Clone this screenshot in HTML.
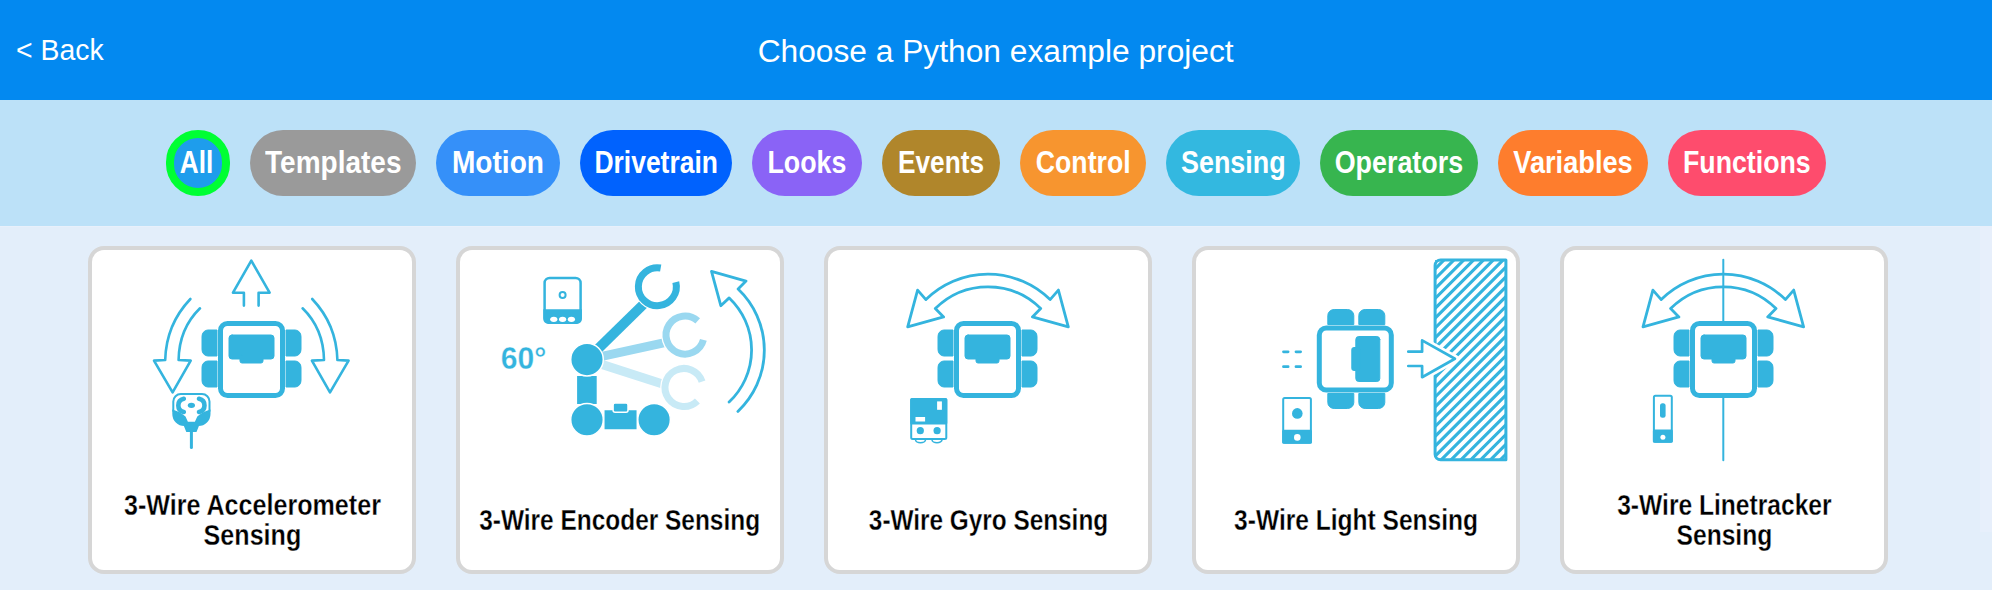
<!DOCTYPE html>
<html><head><meta charset="utf-8">
<style>
*{box-sizing:border-box;margin:0;padding:0}
html,body{width:1992px;height:590px;overflow:hidden;background:#E3EEFA;font-family:"Liberation Sans",sans-serif}
#hdr{position:absolute;left:0;top:0;width:1992px;height:100px;background:#0389F0;color:#fff}
#back{position:absolute;left:16px;top:30px;font-size:29px;line-height:40px;white-space:nowrap}
#back span{display:inline-block;transform:scaleX(0.979);transform-origin:0 50%}
#title{position:absolute;left:0;width:1992px;top:32px;font-size:31px;line-height:40px;text-align:center;white-space:nowrap}
#title span{display:inline-block;transform:scaleX(1.023)}
#band{position:absolute;left:0;top:100px;width:1992px;height:126px;background:#BCE1F8}
.pill{position:absolute;top:130px;height:66px;border-radius:33px;color:#fff;font-weight:bold;font-size:30.5px;line-height:66px;text-align:center;white-space:nowrap}
.pill span{display:inline-block;transform-origin:50% 50%;position:relative;top:-1px}
#all{background:#1E9DEC;border:8px solid #00FF33;line-height:50px}
.card{position:absolute;top:246px;width:328px;height:328px;border:4px solid #D6D6D6;border-radius:16px;background:#fff}
.ct{position:absolute;left:0;width:320px;top:239.5px;height:60px;display:flex;align-items:center;justify-content:center;text-align:center;font-weight:bold;font-size:29px;line-height:30px;color:#000;-webkit-text-stroke:0.3px #fff}
.ct span{display:inline-block;white-space:nowrap}
#sb{position:absolute;left:1980px;top:226px;width:12px;height:306px;background:#E7EFFB}
#ic{position:absolute;left:0;top:0}
</style></head><body>
<div id="hdr">
  <div id="back"><span>&lt; Back</span></div>
  <div id="title"><span>Choose a Python example project</span></div>
</div>
<div id="band"></div>
<div style="position:absolute;left:0;top:226px;width:1992px;height:1px;background:#E8F0FB"></div>
<div class="pill" id="all" style="left:166px;width:64px"><span style="transform:scaleX(0.86);left:-1.5px">All</span></div>
<div class="pill" style="left:250px;width:166px;background:#9A9A9A"><span style="transform:scaleX(0.9183)">Templates</span></div>
<div class="pill" style="left:436px;width:124px;background:#3590F9"><span style="transform:scaleX(0.9212)">Motion</span></div>
<div class="pill" style="left:580px;width:152px;background:#0062FE"><span style="transform:scaleX(0.8669)">Drivetrain</span></div>
<div class="pill" style="left:752px;width:110px;background:#8A63F6"><span style="transform:scaleX(0.8781)">Looks</span></div>
<div class="pill" style="left:882px;width:118px;background:#B0862B"><span style="transform:scaleX(0.8593)">Events</span></div>
<div class="pill" style="left:1020px;width:126px;background:#F7952F"><span style="transform:scaleX(0.8738)">Control</span></div>
<div class="pill" style="left:1166px;width:134px;background:#33B8E0"><span style="transform:scaleX(0.8818)">Sensing</span></div>
<div class="pill" style="left:1320px;width:158px;background:#37B54F"><span style="transform:scaleX(0.8812)">Operators</span></div>
<div class="pill" style="left:1498px;width:150px;background:#FE7D2D"><span style="transform:scaleX(0.8913)">Variables</span></div>
<div class="pill" style="left:1668px;width:158px;background:#FE4C6D"><span style="transform:scaleX(0.8763)">Functions</span></div>

<div class="card" style="left:88px"><div class="ct"><span style="transform:scaleX(0.8657)">3-Wire Accelerometer<br>Sensing</span></div></div>
<div class="card" style="left:456px"><div class="ct"><span style="transform:scaleX(0.8427)">3-Wire Encoder Sensing</span></div></div>
<div class="card" style="left:824px"><div class="ct"><span style="transform:scaleX(0.8397)">3-Wire Gyro Sensing</span></div></div>
<div class="card" style="left:1192px"><div class="ct"><span style="transform:scaleX(0.8466)">3-Wire Light Sensing</span></div></div>
<div class="card" style="left:1560px"><div class="ct"><span style="transform:scaleX(0.8483)">3-Wire Linetracker<br>Sensing</span></div></div>
<div id="sb"></div>

<svg id="ic" width="1992" height="590" viewBox="0 0 1992 590">
<defs>
  <g id="robot">
    <path d="M202,336 a6,6 0 0 1 6,-6 h9 v26 h-9 a6,6 0 0 1 -6,-6z M202,367 a6,6 0 0 1 6,-6 h9 v26 h-9 a6,6 0 0 1 -6,-6z M301,336 a6,6 0 0 0 -6,-6 h-9 v26 h9 a6,6 0 0 0 6,-6z M301,367 a6,6 0 0 0 -6,-6 h-9 v26 h9 a6,6 0 0 0 6,-6z" fill="#34B4DE"/>
    <rect x="220.5" y="323.5" width="62" height="72" rx="7" fill="#fff" stroke="#34B4DE" stroke-width="5"/>
    <rect x="229" y="335" width="45" height="24" rx="3" fill="#34B4DE"/>
    <rect x="240" y="355" width="23" height="8" rx="2" fill="#34B4DE"/>
  </g>
  <g id="arcs">
    <path d="M925.9,299.6 A88.6,88.6 0 0 1 1050.1,299.6 L1058.4,290.1 L1068.3,326.9 L1032.4,316.9 L1040.7,308.6 A74.8,74.8 0 0 0 935.3,308.6 L943.6,316.9 L907.7,326.9 L917.6,290.1 Z" fill="none" stroke="#34B4DE" stroke-width="2.8" stroke-linejoin="round"/>
  </g>
  <clipPath id="wallclip"><rect x="1435" y="260" width="71" height="200"/></clipPath>
</defs>
<g fill="none" stroke="#34B4DE" stroke-linecap="round">
<!-- card1 -->
<use href="#robot"/>
<path d="M243.9,305.6 V292.7 H233 L251.3,260.6 L269.6,292.7 H258.6 V305.6" stroke-width="2.6" stroke-linejoin="round"/>
<g id="carrow"><path d="M190.4,299 C178,312 166,330 165.2,360 L154,360.6 L172.6,392.3 L190.7,360.6 L178.6,360 C179,335 188,320 200,308.3" stroke-width="2.6" stroke-linejoin="round"/></g>
<use href="#carrow" transform="translate(502.6,0) scale(-1,1)"/>
<!-- accel sensor -->
<path d="M173.3,411 V401.5 a7.5,7.5 0 0 1 7.5,-7.5 H202 a7.5,7.5 0 0 1 7.5,7.5 V411" stroke-width="2"/>
<path d="M172.3,409.5 Q180,411.5 185.5,416.4 L187.9,421.8 H194.9 L197.3,416.4 Q202.8,411.5 210.5,409.5 V414 a12,12 0 0 1 -12,12 H198.9 L196.5,432 H186.3 L183.9,426 H184.3 a12,12 0 0 1 -12,-12 Z" fill="#34B4DE" stroke="none"/>
<line x1="191.4" y1="431" x2="191.4" y2="447.5" stroke-width="3"/>
<ellipse cx="191.4" cy="405.3" rx="3.6" ry="2.6" fill="#34B4DE" stroke="none"/>
<path d="M183.8,398.8 C176.5,400.5 176.5,410.3 183.8,412" stroke-width="4.6"/>
<path d="M199,398.8 C206.3,400.5 206.3,410.3 199,412" stroke-width="4.6"/>
<!-- card2 -->
<rect x="544.6" y="277.9" width="36" height="44.8" rx="5" stroke-width="2.5"/>
<path d="M543.3,309.3 h38.6 v9.7 a5,5 0 0 1 -5,5 h-28.6 a5,5 0 0 1 -5,-5z" fill="#34B4DE" stroke="none"/>
<ellipse cx="553.8" cy="319.3" rx="3.6" ry="2.6" fill="#fff" stroke="none"/>
<ellipse cx="562.6" cy="319.3" rx="3.6" ry="2.6" fill="#fff" stroke="none"/>
<ellipse cx="571.4" cy="319.3" rx="3.6" ry="2.6" fill="#fff" stroke="none"/>
<circle cx="562.6" cy="294.9" r="3" stroke-width="2"/>
<text x="500.8" y="369.4" textLength="45.5" lengthAdjust="spacingAndGlyphs" font-family="Liberation Sans" font-weight="bold" font-size="31" fill="#34B4DE" stroke="#fff" stroke-width="0.3">60°</text>
<!-- arms -->
<line x1="587" y1="359.6" x2="663.3" y2="384.3" stroke="#C8EAF6" stroke-width="9" stroke-linecap="butt"/>
<path d="M702.07,381.63 A19,19 0 1 0 697.4,400.9" stroke="#fff" stroke-width="9.5" stroke-linecap="butt"/>
<path d="M702.07,381.63 A19,19 0 1 0 697.4,400.9" stroke="#C8EAF6" stroke-width="7" stroke-linecap="butt"/>
<line x1="587" y1="359.6" x2="664.8" y2="342.6" stroke="#9AD8F0" stroke-width="9" stroke-linecap="butt"/>
<path d="M697.7,320.9 A19,19 0 1 0 703.4,339.9" stroke="#fff" stroke-width="9.5" stroke-linecap="butt"/>
<path d="M697.7,320.9 A19,19 0 1 0 703.4,339.9" stroke="#9AD8F0" stroke-width="7" stroke-linecap="butt"/>
<line x1="587" y1="359.6" x2="644.3" y2="303.5" stroke="#34B4DE" stroke-width="10" stroke-linecap="butt"/>
<path d="M660.7,268 A19,19 0 1 0 675.8,282.1" stroke="#fff" stroke-width="9.5" stroke-linecap="butt"/>
<path d="M660.7,268 A19,19 0 1 0 675.8,282.1" stroke="#34B4DE" stroke-width="7" stroke-linecap="butt"/>
<rect x="577.1" y="376" width="19.6" height="28" fill="#34B4DE" stroke="none"/>
<path d="M603.8,409.5 h33.5 v20.5 h-33.5z" fill="#34B4DE" stroke="#fff" stroke-width="1.5"/>
<rect x="613.1" y="403" width="14.9" height="9.3" rx="2" fill="#34B4DE" stroke="#fff" stroke-width="1.5"/>
<circle cx="587" cy="359.6" r="16.3" fill="#34B4DE" stroke="#fff" stroke-width="1.5"/>
<circle cx="587" cy="419.8" r="16.3" fill="#34B4DE" stroke="#fff" stroke-width="1.5"/>
<circle cx="654.1" cy="419.8" r="16.3" fill="#34B4DE" stroke="#fff" stroke-width="1.5"/>
<path d="M737.9,411.4 A84.3,84.3 0 0 0 738.1,289 L746,281.1 L711.5,271.4 L720.8,305.7 L729.2,297.9 A71.6,71.6 0 0 1 729.1,402" stroke-width="2.8" stroke-linejoin="round"/>

<!-- card3 -->
<use href="#robot" transform="translate(736,0)"/>
<use href="#arcs"/>
<rect x="911.2" y="398.9" width="35.1" height="40" rx="1.5" stroke-width="2"/>
<rect x="910.2" y="397.9" width="37.1" height="26.7" rx="1.5" fill="#34B4DE" stroke="none"/>
<rect x="937.1" y="401.4" width="4.8" height="8.4" fill="#fff" stroke="none"/>
<rect x="915.5" y="417" width="9.6" height="4.5" fill="#fff" stroke="none"/>
<circle cx="920.3" cy="430.7" r="3.6" fill="#34B4DE" stroke="none"/>
<circle cx="937.1" cy="430.7" r="3.6" fill="#34B4DE" stroke="none"/>
<path d="M915.5,439.8 a5,3 0 0 0 10,0 M932,439.8 a5,3 0 0 0 10,0" stroke-width="1.6"/>

<!-- card4 -->
<use href="#robot" transform="translate(1355.3,359) rotate(90) translate(-251.5,-359.5)"/>
<path d="M1283.5,351.8 h4.6 M1296,351.8 h4.6 M1283.5,366.7 h4.6 M1296,366.7 h4.6" stroke-width="2.8"/>
<rect x="1283.2" y="397.9" width="27.7" height="44.8" rx="1.5" stroke-width="2"/>
<rect x="1282.2" y="429.7" width="29.7" height="14" rx="1.5" fill="#34B4DE" stroke="none"/>
<circle cx="1297.3" cy="413.4" r="5.3" fill="#34B4DE" stroke="none"/>
<circle cx="1297.3" cy="437.4" r="3.3" fill="#fff" stroke="none"/>
<g clip-path="url(#wallclip)"><path d="M1209.5,465.0 L1419.5,255.0 M1219.3,465.0 L1429.3,255.0 M1229.2,465.0 L1439.2,255.0 M1239.0,465.0 L1449.0,255.0 M1248.9,465.0 L1458.9,255.0 M1258.8,465.0 L1468.8,255.0 M1268.6,465.0 L1478.6,255.0 M1278.5,465.0 L1488.5,255.0 M1288.3,465.0 L1498.3,255.0 M1298.1,465.0 L1508.1,255.0 M1308.0,465.0 L1518.0,255.0 M1317.8,465.0 L1527.8,255.0 M1327.7,465.0 L1537.7,255.0 M1337.5,465.0 L1547.5,255.0 M1347.4,465.0 L1557.4,255.0 M1357.2,465.0 L1567.2,255.0 M1367.1,465.0 L1577.1,255.0 M1377.0,465.0 L1587.0,255.0 M1386.8,465.0 L1596.8,255.0 M1396.6,465.0 L1606.6,255.0 M1406.5,465.0 L1616.5,255.0 M1416.3,465.0 L1626.3,255.0 M1426.2,465.0 L1636.2,255.0 M1436.0,465.0 L1646.0,255.0 M1445.9,465.0 L1655.9,255.0 M1455.8,465.0 L1665.8,255.0 M1465.6,465.0 L1675.6,255.0 M1475.4,465.0 L1685.4,255.0 M1485.3,465.0 L1695.3,255.0 M1495.1,465.0 L1705.1,255.0 M1505.0,465.0 L1715.0,255.0 M1514.8,465.0 L1724.8,255.0 M1524.7,465.0 L1734.7,255.0" stroke-width="3.1" stroke-linecap="butt"/></g>
<path d="M1440.6,260 H1505.9 V459.8 H1440.6 a5.5,5.5 0 0 1 -5.5,-5.5 V265.5 a5.5,5.5 0 0 1 5.5,-5.5z" stroke-width="3" stroke-linejoin="round"/>
<path d="M1422.1,340.4 L1454.9,358.8 L1422.1,377.2 Z" fill="#fff" stroke="#fff" stroke-width="8" stroke-linejoin="round"/>
<path d="M1408.3,351.7 H1422.1 V340.4 L1454.9,358.8 L1422.1,377.2 V366 H1408.3" fill="#fff" stroke-width="2.7" stroke-linejoin="round"/>

<!-- card5 -->
<line x1="1723.3" y1="259.8" x2="1723.3" y2="460.3" stroke-width="2"/>
<use href="#arcs" transform="translate(735.3,0)"/>
<use href="#robot" transform="translate(1472,0)"/>
<rect x="1653.9" y="395.7" width="17.9" height="46.1" rx="1.5" stroke-width="2"/>
<rect x="1652.9" y="429.6" width="19.9" height="13.2" rx="1.5" fill="#34B4DE" stroke="none"/>
<rect x="1660" y="403.2" width="5.6" height="14.6" rx="2.5" fill="#34B4DE" stroke="none"/>
<circle cx="1662.9" cy="437.3" r="2.5" fill="#fff" stroke="none"/>
</g>
</svg>
</body></html>
